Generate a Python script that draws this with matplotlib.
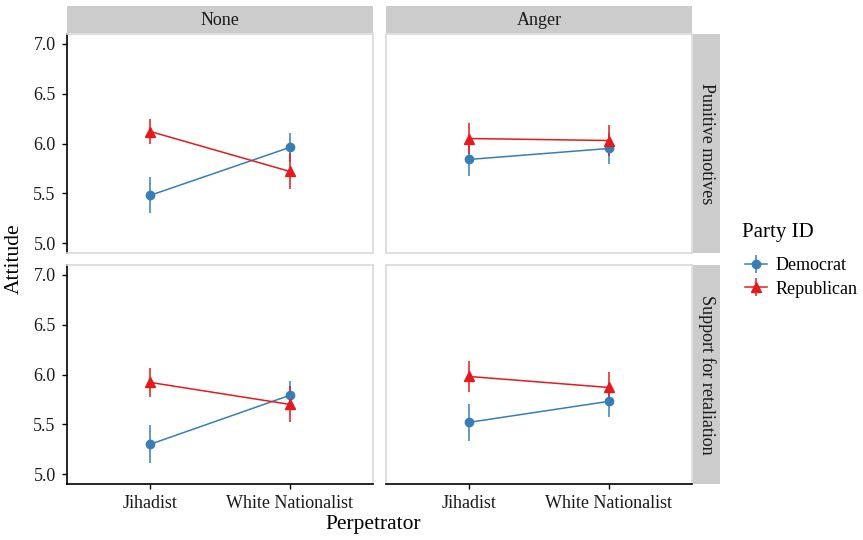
import numpy as np
import matplotlib
matplotlib.use("Agg")
import matplotlib.pyplot as plt
from matplotlib.patches import Rectangle

plt.rcParams['font.family'] = ['Liberation Serif', 'DejaVu Serif']

perpetrators = ["Jihadist", "White Nationalist"]
emotions = ["None", "Anger"]
outcomes = ["Punitive motives", "Support for retaliation"]
parties = ["Democrat", "Republican"]

# means: [outcome][emotion] -> [Jihadist, White Nationalist]
dem_mean = [[[5.48, 5.96], [5.84, 5.95]],
            [[5.30, 5.79], [5.52, 5.73]]]
dem_err = [[[0.18, 0.15], [0.17, 0.16]],
           [[0.19, 0.14], [0.185, 0.16]]]
rep_mean = [[[6.12, 5.72], [6.05, 6.03]],
            [[5.92, 5.70], [5.98, 5.87]]]
rep_err = [[[0.13, 0.18], [0.16, 0.16]],
           [[0.15, 0.18], [0.155, 0.16]]]

colors = {"Democrat": "#377EB8", "Republican": "#E41A1C"}
markers = {"Democrat": "o", "Republican": "^"}
msize = {"Democrat": 6, "Republican": 7}

W, H = 863, 540
fig = plt.figure(figsize=(W / 100, H / 100), dpi=100)


def px(x0, y0, x1, y1):
    # pixel box (top-left origin) -> figure fraction rect
    return [x0 / W, 1 - y1 / H, (x1 - x0) / W, (y1 - y0) / H]


col_x = [(67, 373), (386, 692)]
row_y = [(34, 253), (265, 484)]
border = "#D9D9D9"
strip_col = "#CCCCCC"
txt = "#1a1a1a"

handles = []
for r in range(2):
    for c in range(2):
        ax = fig.add_axes(px(col_x[c][0], row_y[r][0], col_x[c][1], row_y[r][1]))
        x = np.arange(1, len(perpetrators) + 1)
        data = {"Democrat": (dem_mean[r][c], dem_err[r][c]),
                "Republican": (rep_mean[r][c], rep_err[r][c])}
        hs = []
        for p in parties:
            m, e = data[p]
            h = ax.errorbar(x, m, yerr=e, fmt='-', marker=markers[p],
                            color=colors[p], ms=msize[p], lw=1.1,
                            elinewidth=1.1, capsize=0)
            hs.append(h)
        if r == 0 and c == 0:
            handles = hs
        ax.set_xlim(0.4, 2.6)
        ax.set_ylim(4.9, 7.1)
        ax.set_yticks([5.0, 5.5, 6.0, 6.5, 7.0])
        ax.set_xticks(x)
        for s in ax.spines.values():
            s.set_color(border)
            s.set_linewidth(1.2)
        if c == 0:
            ax.spines['left'].set_color('black')
            ax.set_yticklabels(["5.0", "5.5", "6.0", "6.5", "7.0"])
        else:
            ax.tick_params(axis='y', left=False, labelleft=False)
        if r == 1:
            ax.spines['bottom'].set_color('black')
            ax.set_xticklabels(perpetrators)
        else:
            ax.tick_params(axis='x', bottom=False, labelbottom=False)
        ax.tick_params(labelsize=13, length=3.6, width=1, color='black',
                       labelcolor=txt, pad=4.5)

        # facet strips
        if r == 0:
            sax = fig.add_axes(px(col_x[c][0], 6, col_x[c][1], 33))
            sax.set_axis_off()
            sax.add_patch(Rectangle((0, 0), 1, 1, color=strip_col, transform=sax.transAxes))
            sax.text(0.5, 0.45, emotions[c], ha='center', va='center', fontsize=13,
                     color=txt)
        if c == 1:
            sax = fig.add_axes(px(693, row_y[r][0], 720, row_y[r][1]))
            sax.set_axis_off()
            sax.add_patch(Rectangle((0, 0), 1, 1, color=strip_col, transform=sax.transAxes))
            sax.text(0.5, 0.5, outcomes[r], ha='center', va='center', fontsize=13,
                     rotation=-90, color=txt)

fig.text(14 / W, 1 - 259 / H, "Attitude", rotation=90, ha='center', va='center', fontsize=15.5)
fig.text(373 / W, 1 - 525 / H, "Perpetrator", ha='center', va='center', fontsize=15.5)

# legend title placed on its own, keys below
fig.text(742 / W, 1 - 233 / H, "Party ID", ha='left', va='center', fontsize=15)
leg = fig.legend(handles, parties, loc='upper left',
                 bbox_to_anchor=(729 / W, 1 - 241 / H), frameon=False,
                 fontsize=13, handlelength=1.2, handletextpad=0.5,
                 labelspacing=0.36)

fig.savefig("out.png", dpi=100)
